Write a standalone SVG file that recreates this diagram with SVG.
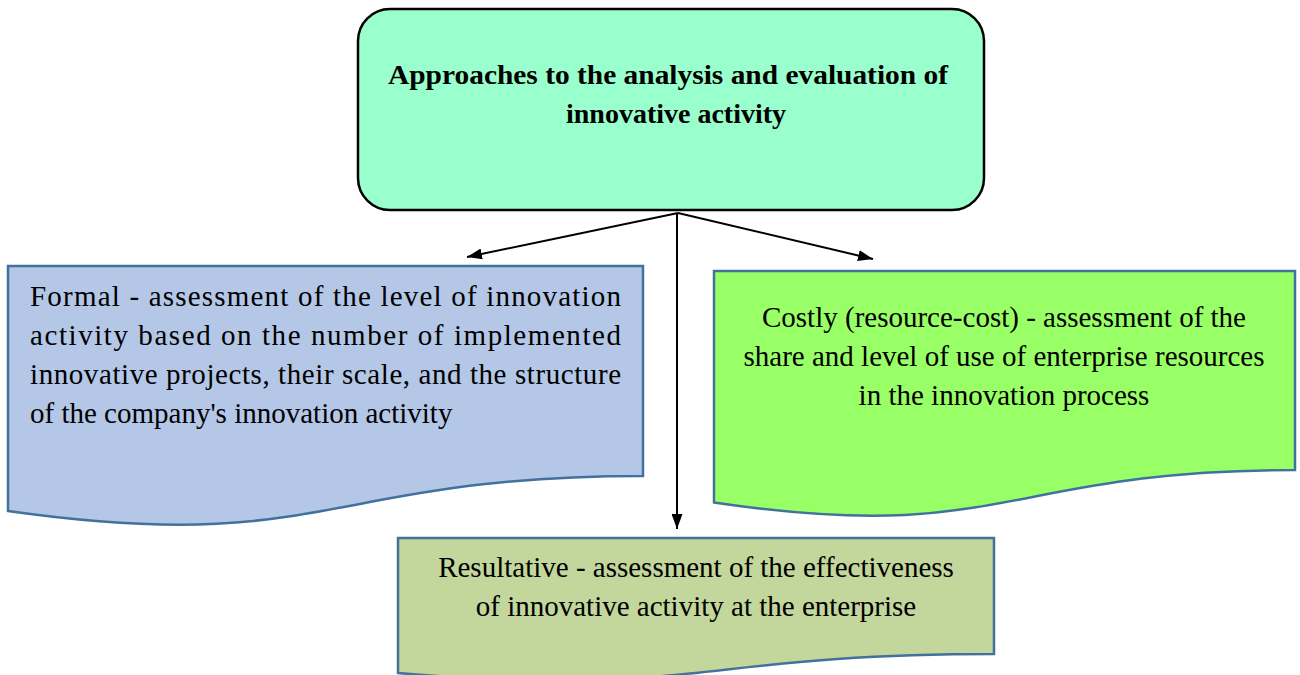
<svg xmlns="http://www.w3.org/2000/svg" width="1300" height="675" viewBox="0 0 1300 675">
<style>
.t{font-family:"Liberation Serif","Times New Roman",serif;font-size:29px;fill:#000}
.b{font-weight:bold;font-size:28px}
.doc{stroke:#41719C;stroke-width:2.5}
.conn{stroke:#000;stroke-width:2;fill:none}
</style>
<defs>
<marker id="ah" viewBox="0 0 15 11" refX="15" refY="5.5" markerWidth="15" markerHeight="11" markerUnits="userSpaceOnUse" orient="auto">
<path d="M0,0 L15,5.5 L0,11 Z" fill="#000"/>
</marker>
</defs>
<rect width="1300" height="675" fill="#fff"/>
<g id="connectors">
<line class="conn" x1="678" y1="213" x2="467" y2="257" marker-end="url(#ah)"/>
<line class="conn" x1="678" y1="213" x2="873" y2="259" marker-end="url(#ah)"/>
<line class="conn" x1="677" y1="213" x2="677" y2="529" marker-end="url(#ah)"/>
</g>
<g id="top">
<rect x="358" y="9" width="626" height="201" rx="32" ry="32" fill="#99FFCC" stroke="#000" stroke-width="2.5"/>
<text class="t b" x="668" y="84" text-anchor="middle" textLength="560" lengthAdjust="spacingAndGlyphs">Approaches to the analysis and evaluation of</text>
<text class="t b" x="676" y="123" text-anchor="middle">innovative activity</text>
</g>
<g id="formal">
<path class="doc" fill="#B4C7E7" d="M8,266 H643 V476 C325.5,476 325.5,556 8,511 Z"/>
<text class="t" x="30" y="306" textLength="591" lengthAdjust="spacing">Formal - assessment of the level of innovation</text>
<text class="t" x="30" y="345" textLength="591" lengthAdjust="spacing">activity based on the number of implemented</text>
<text class="t" x="30" y="384" textLength="591" lengthAdjust="spacing">innovative projects, their scale, and the structure</text>
<text class="t" x="30" y="423">of the company's innovation activity</text>
</g>
<g id="costly">
<path class="doc" fill="#99FF66" d="M714,271 H1295 V470 C1004.5,470 1004.5,545.5 714,502.5 Z"/>
<text class="t" x="1004" y="327" text-anchor="middle">Costly (resource-cost) - assessment of the</text>
<text class="t" x="1004" y="366" text-anchor="middle">share and level of use of enterprise resources</text>
<text class="t" x="1004" y="405" text-anchor="middle">in the innovation process</text>
</g>
<g id="resultative">
<path class="doc" fill="#C3D69B" d="M398,538 H994 V654 C696,654 696,698 398,673 Z"/>
<text class="t" x="696" y="577" text-anchor="middle">Resultative - assessment of the effectiveness</text>
<text class="t" x="696" y="616" text-anchor="middle">of innovative activity at the enterprise</text>
</g>
</svg>
